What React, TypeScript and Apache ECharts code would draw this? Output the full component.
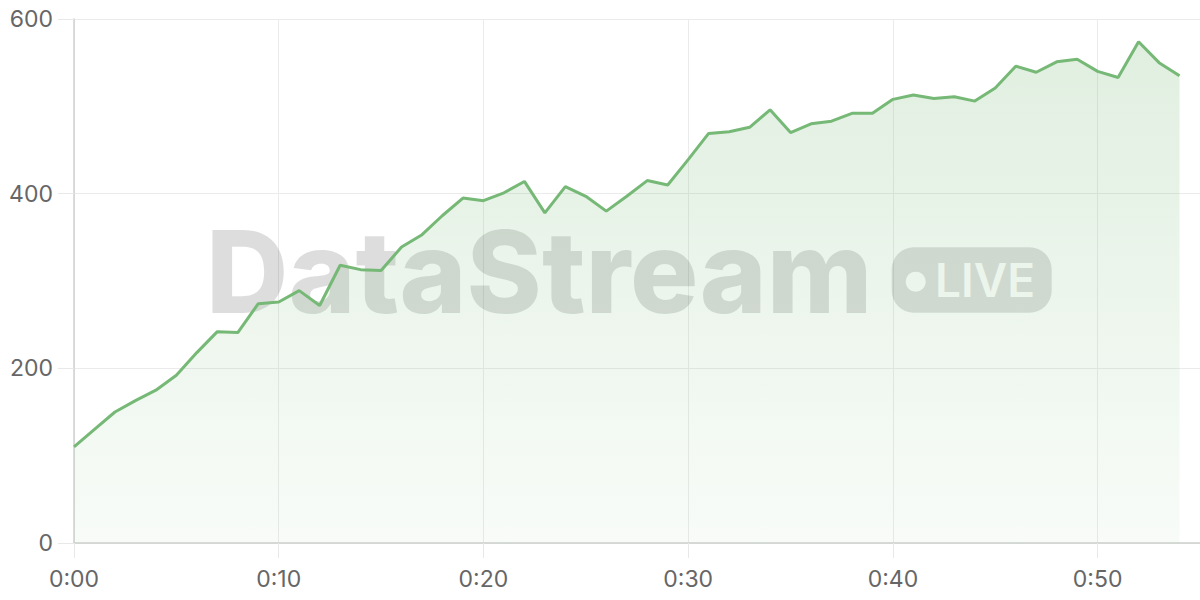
import { useEffect, useRef } from 'react';
import * as echarts from 'echarts';

const values = [
  110, 130, 150, 163, 175, 192, 218, 242, 241, 274,
  276, 289, 272, 318, 313, 312, 339, 353, 375, 395,
  392, 401, 414, 378, 408, 397, 380, 397, 415, 410,
  439, 469, 471, 476, 496, 470, 480, 483, 492, 492,
  508, 513, 509, 511, 506, 521, 546, 539, 551, 554,
  540, 533, 574, 550, 535,
];
const xTickLabels = ['0:00', '0:10', '0:20', '0:30', '0:40', '0:50'];
const yTickLabels = ['0', '200', '400', '600'];
const watermarkText = 'DataStream';
const badgeText = 'LIVE';

export default function App() {
  const ref = useRef<HTMLDivElement>(null);
  useEffect(() => {
    const chart = echarts.init(ref.current!, null, { renderer: 'svg' });
    const labelFont = 'Inter';
    chart.setOption({
      animation: false,
      grid: { left: 74, right: 0, top: 19, bottom: 57 },
      xAxis: {
        type: 'value',
        min: 0,
        max: 55,
        interval: 10,
        axisLine: { show: true, lineStyle: { color: '#cdd1cd', width: 1.5 } },
        axisTick: { show: true, length: 15, lineStyle: { color: '#e8e8e8' } },
        splitLine: { show: true, showMaxLine: false, lineStyle: { color: '#ebebeb' } },
        axisLabel: {
          showMaxLabel: false,
          color: '#666',
          fontSize: 23,
          fontFamily: labelFont,
          margin: 24,
          formatter: (v: number) => xTickLabels[Math.round(v / 10)] ?? '',
        },
      },
      yAxis: {
        type: 'value',
        min: 0,
        max: 600,
        interval: 200,
        axisLine: { show: true, lineStyle: { color: '#d0d0d0', width: 1.5 } },
        axisTick: { show: true, length: 16, lineStyle: { color: '#e8e8e8' } },
        splitLine: { show: true, lineStyle: { color: '#ebebeb' } },
        axisLabel: {
          color: '#666',
          fontSize: 23,
          fontFamily: labelFont,
          margin: 21,
          formatter: (v: number) => yTickLabels[Math.round(v / 200)] ?? '',
        },
      },
      graphic: [
        {
          type: 'text',
          z: 1,
          x: 206,
          y: 271.5,
          style: {
            text: watermarkText,
            fontSize: 114,
            fontWeight: 800,
            fontFamily: 'Inter, sans-serif',
            fill: 'rgba(0,0,0,0.135)',
            verticalAlign: 'middle',
          },
        },
        {
          type: 'rect',
          z: 1,
          shape: { x: 891.7, y: 247.3, width: 160, height: 65.4, r: 22 },
          style: { fill: 'rgba(0,0,0,0.13)' },
        },
        {
          type: 'circle',
          z: 1,
          shape: { cx: 915.7, cy: 281.7, r: 10 },
          style: { fill: '#ffffff' },
        },
        {
          type: 'text',
          z: 1,
          x: 935,
          y: 280,
          style: {
            text: badgeText,
            fontSize: 46,
            fontWeight: 600,
            fontFamily: 'Inter, sans-serif',
            fill: '#ffffff',
            verticalAlign: 'middle',
          },
        },
      ],
      series: [
        {
          type: 'line',
          z: 2,
          data: values.map((v, i) => [i, v]),
          symbol: 'none',
          showSymbol: false,
          lineStyle: { color: '#76b876', width: 3 },
          areaStyle: {
            color: new echarts.graphic.LinearGradient(0, 0, 0, 1, [
              { offset: 0, color: 'rgba(118,184,118,0.32)' },
              { offset: 1, color: 'rgba(118,184,118,0.07)' },
            ]),
          },
        },
      ],
    });
    return () => chart.dispose();
  }, []);
  return (
    <div
      ref={ref}
      style={{ position: 'fixed', left: 0, top: 0, width: 1200, height: 600, background: '#fff' }}
    />
  );
}
